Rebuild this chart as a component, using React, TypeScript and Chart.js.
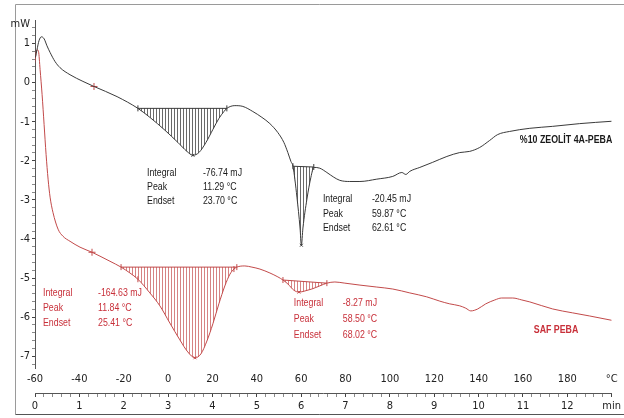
import React, { useEffect, useRef } from 'react';
import { Chart, registerables } from 'chart.js';

Chart.register(...registerables);

// ---------------- data ----------------
const temperatureTicks = [-60, -40, -20, 0, 20, 40, 60, 80, 100, 120, 140, 160, 180, 200];
const timeMajorTicks = [0, 1, 2, 3, 4, 5, 6, 7, 8, 9, 10, 11, 12, 13];
const mwMajorTicks = [-7, -6, -5, -4, -3, -2, -1, 0, 1];
const temperatureUnit = '°C';
const timeUnit = 'min';
const mwUnit = 'mW';

// %10 ZEOLİT 4A-PEBA (black)
const zeoliteTemp = [
  -59.8, -59.1, -58.2, -57.1, -55.9, -54.6, -53.2, -51.0, -48.7, -44.2, -38.4, -33.4, -23.0,
  -13.6, -8.2, -1.4, 4.4, 8.5, 11.2, 13.9, 17.1, 20.2, 22.9, 25.2, 26.5,
  30.1, 33.7, 38.2, 42.3, 45.9, 49.5, 52.2, 54.0, 55.4,
  56.3, 58.1, 59.5, 60.1, 60.8, 62.6, 64.4, 65.7,
  68.4, 71.6, 74.7, 77.4, 81.9, 86.5, 94.1, 101.3, 105.4, 107.2, 109.0, 113.5, 119.3, 125.7,
  131.5, 136.0, 140.5, 145.0, 148.6, 154.0, 163.1, 173.4, 185.6, 200.0,
];
const zeoliteMW = [
  0.64, 0.84, 1.07, 1.17, 1.12, 0.94, 0.77, 0.54, 0.38, 0.20, 0.03, -0.10, -0.36,
  -0.66, -0.89, -1.22, -1.53, -1.76, -1.86, -1.79, -1.53, -1.20, -0.92, -0.74, -0.66,
  -0.59, -0.61, -0.74, -0.89, -1.05, -1.28, -1.53, -1.79, -2.02,
  -2.14, -2.93, -3.72, -4.16, -3.72, -2.98, -2.42, -2.17,
  -2.19, -2.30, -2.42, -2.50, -2.53, -2.53, -2.47, -2.40, -2.30, -2.35, -2.27, -2.17, -2.04, -1.89,
  -1.79, -1.76, -1.66, -1.48, -1.33, -1.25, -1.17, -1.12, -1.05, -0.99,
];

// SAF PEBA (red)
const safTemp = [
  -60.6, -60.2, -59.1, -58.4, -57.7, -56.8, -55.9, -55.0, -54.1, -53.2, -51.9, -49.6, -47.4,
  -44.2, -39.7, -34.3, -30.7, -26.2,
  -21.2, -17.2, -13.6, -8.2, -3.7, 0.8, 5.3, 8.9, 12.1, 14.8, 17.5, 20.2, 22.9, 25.6, 27.9, 29.7, 31.0,
  34.6, 37.8, 41.4, 45.9, 49.5,
  51.8, 54.0, 56.7, 59.0, 61.7, 64.8, 68.4, 71.6,
  75.2, 79.7, 86.5, 94.1, 101.3, 109.0, 116.6, 122.5, 127.0, 131.5, 134.2, 136.5, 139.6, 143.2,
  147.3, 150.4, 155.4, 159.5, 163.1, 173.4, 182.4, 190.1, 200.0,
];
const safMW = [
  0.28, 0.48, 0.84, 0.79, 0.33, -0.31, -1.07, -1.84, -2.47, -2.93, -3.32, -3.75, -3.93,
  -4.06, -4.21, -4.34, -4.44, -4.57,
  -4.72, -4.87, -5.03, -5.38, -5.71, -6.15, -6.58, -6.89, -7.04, -6.94, -6.61, -6.17, -5.66, -5.20, -4.90, -4.77, -4.72,
  -4.69, -4.72, -4.77, -4.87, -4.97,
  -5.05, -5.15, -5.31, -5.36, -5.33, -5.28, -5.20, -5.13,
  -5.10, -5.13, -5.18, -5.23, -5.28, -5.38, -5.48, -5.59, -5.66, -5.71, -5.77, -5.84, -5.79, -5.66,
  -5.56, -5.51, -5.51, -5.56, -5.61, -5.79, -5.89, -5.97, -6.08,
];

// integration limits (°C) and baseline values (mW) at both limits
const zeolitePeakLimits = [[-13.6, 26.5], [56.3, 65.7]];
const zeolitePeakBase = [[-0.66, -0.66], [-2.14, -2.16]];
const safPeakLimits = [[-21.2, 31.0], [51.8, 71.6]];
const safPeakBase = [[-4.72, -4.72], [-5.05, -5.13]];

// evaluation marks
const zeoliteLimitMarks = [
  { x: -13.6, y: -0.66 }, { x: 26.5, y: -0.66 }, { x: 56.3, y: -2.14 }, { x: 65.7, y: -2.16 },
];
const safLimitMarks = [
  { x: -21.2, y: -4.72 }, { x: -13.6, y: -5.03 }, { x: 29.7, y: -4.77 }, { x: 31.0, y: -4.72 },
  { x: 51.8, y: -5.05 }, { x: 71.6, y: -5.13 },
];
const zeolitePeakMarks = [{ x: 11.2, y: -1.86 }, { x: 60.1, y: -4.16 }];
const safPeakMarks = [{ x: 12.1, y: -7.04 }, { x: 59.0, y: -5.36 }];
const crossMarks = [{ x: -33.4, y: -0.10 }, { x: -34.3, y: -4.34 }];

// texts
const seriesNames = ['%10 ZEOLİT 4A-PEBA', 'SAF PEBA'];
const resultTitles = ['Integral', 'Peak', 'Endset'];
const zeoliteResults = [
  ['-76.74 mJ', '11.29 °C', '23.70 °C'],
  ['-20.45 mJ', '59.87 °C', '62.61 °C'],
];
const safResults = [
  ['-164.63 mJ', '11.84 °C', '25.41 °C'],
  ['-8.27 mJ', '58.50 °C', '68.02 °C'],
];

// ---------------- layout / style ----------------
const BLACK = '#3a3a3a';
const RED = '#c24a4a';
const RED_TEXT = '#c8303a';
const FONT = '"Liberation Sans Narrow", "DejaVu Sans Condensed", "Liberation Sans", Arial, sans-serif';
const TEXT_FONT = '"Liberation Sans", Arial, sans-serif';
const TEXT_SCALE = 0.8;

const zeoliteBoxes = [
  { t: -9.5, v: -2.3, valueT: 15.7, step: 14 },
  { t: 69.8, v: -2.98, valueT: 91.9, step: 14.5 },
];
const safBoxes = [
  { t: -56.4, v: -5.38, valueT: -31.6, step: 15 },
  { t: 56.7, v: -5.64, valueT: 78.8, step: 16 },
];
const nameAnchors = [
  { t: 158.6, v: -1.48 },
  { t: 164.9, v: -6.33 },
];

const pts = (ts: number[], vs: number[]) => ts.map((t, i) => ({ x: t, y: vs[i] }));

function segment(ts: number[], vs: number[], lim: number[], base: number[]) {
  const out = [{ x: lim[0], y: base[0] }];
  ts.forEach((t, i) => {
    if (t > lim[0] + 0.05 && t < lim[1] - 0.05) out.push({ x: t, y: vs[i] });
  });
  out.push({ x: lim[1], y: base[1] });
  return out;
}

function hatch(color: string, gap: number) {
  const c = document.createElement('canvas');
  c.width = gap;
  c.height = 8;
  const g = c.getContext('2d')!;
  g.fillStyle = color;
  g.fillRect(0, 0, 1, 8);
  return g.createPattern(c, 'repeat')!;
}

const isInt = (v: number) => Math.abs(v - Math.round(v)) < 1e-6;

const framePlugin = {
  id: 'frame',
  beforeDraw(chart: any) {
    const { ctx, width, height } = chart;
    ctx.save();
    ctx.fillStyle = '#ffffff';
    ctx.fillRect(0, 0, width, height);
    ctx.strokeStyle = '#9a9a9a';
    ctx.lineWidth = 1;
    ctx.beginPath();
    ctx.moveTo(width, 4.5);
    ctx.lineTo(15.5, 4.5);
    ctx.lineTo(15.5, 414.5);
    ctx.stroke();
    ctx.strokeStyle = '#555555';
    ctx.beginPath();
    ctx.moveTo(15.5, 414.5);
    ctx.lineTo(width, 414.5);
    ctx.stroke();
    ctx.restore();
  },
};

const textPlugin = {
  id: 'texts',
  afterDatasetsDraw(chart: any) {
    const { ctx } = chart;
    const xs = chart.scales.x;
    const ys = chart.scales.y;
    const draw = (text: string, t: number, v: number, dy: number, color: string, bold = false) => {
      ctx.save();
      ctx.font = `${bold ? 'bold ' : ''}11px ${TEXT_FONT}`;
      ctx.fillStyle = color;
      ctx.textBaseline = 'middle';
      ctx.textAlign = 'left';
      ctx.translate(xs.getPixelForValue(t), ys.getPixelForValue(v) + dy);
      ctx.scale(TEXT_SCALE, 1);
      ctx.fillText(text, 0, 0);
      ctx.restore();
    };
    const group = (boxes: any[], results: string[][], color: string) => {
      boxes.forEach((b, k) => {
        resultTitles.forEach((title, i) => {
          draw(title, b.t, b.v, i * b.step, color);
          draw(results[k][i], b.valueT, b.v, i * b.step, color);
        });
      });
    };
    group(zeoliteBoxes, zeoliteResults, '#1a1a1a');
    group(safBoxes, safResults, RED_TEXT);
    draw(seriesNames[0], nameAnchors[0].t, nameAnchors[0].v, 0, '#1a1a1a', true);
    draw(seriesNames[1], nameAnchors[1].t, nameAnchors[1].v, 0, RED_TEXT, true);
  },
};

export default function App() {
  const ref = useRef<HTMLCanvasElement | null>(null);

  useEffect(() => {
    if (!ref.current) return;
    const blackHatch = hatch('#6a6a6a', 3);
    const redHatch = hatch('rgba(200,90,90,0.75)', 3);

    const line = (data: any[], color: string) => ({
      data,
      borderColor: color,
      borderWidth: 1,
      pointRadius: 0,
      fill: false,
      cubicInterpolationMode: 'monotone',
    });
    const base = (lim: number[], b: number[], color: string) => ({
      data: [{ x: lim[0], y: b[0] }, { x: lim[1], y: b[1] }],
      borderColor: color,
      borderWidth: 1,
      pointRadius: 0,
      fill: false,
    });
    const seg = (data: any[], target: number, pattern: CanvasPattern) => ({
      data,
      borderWidth: 0,
      borderColor: 'transparent',
      backgroundColor: pattern,
      pointRadius: 0,
      fill: target,
      cubicInterpolationMode: 'monotone',
    });
    const marks = (data: any[], color: string, style: string, radius: number, rotation = 0) => ({
      data,
      showLine: false,
      pointStyle: style,
      pointRadius: radius,
      pointRotation: rotation,
      pointBorderColor: color,
      pointBackgroundColor: color,
      pointBorderWidth: 1,
    });

    const datasets: any[] = [
      line(pts(zeoliteTemp, zeoliteMW), BLACK), // 0
      line(pts(safTemp, safMW), RED), // 1
      base(zeolitePeakLimits[0], zeolitePeakBase[0], BLACK), // 2
      seg(segment(zeoliteTemp, zeoliteMW, zeolitePeakLimits[0], zeolitePeakBase[0]), 2, blackHatch), // 3
      base(zeolitePeakLimits[1], zeolitePeakBase[1], BLACK), // 4
      seg(segment(zeoliteTemp, zeoliteMW, zeolitePeakLimits[1], zeolitePeakBase[1]), 4, blackHatch), // 5
      base(safPeakLimits[0], safPeakBase[0], RED), // 6
      seg(segment(safTemp, safMW, safPeakLimits[0], safPeakBase[0]), 6, redHatch), // 7
      base(safPeakLimits[1], safPeakBase[1], RED), // 8
      seg(segment(safTemp, safMW, safPeakLimits[1], safPeakBase[1]), 8, redHatch), // 9
      marks(zeoliteLimitMarks, BLACK, 'line', 3, 90),
      marks(safLimitMarks, RED, 'line', 3, 90),
      marks(zeolitePeakMarks, BLACK, 'crossRot', 2),
      marks(safPeakMarks, RED, 'crossRot', 2),
      marks(crossMarks, RED, 'cross', 3.5),
    ];

    const tickFont = { family: FONT, size: 11 };

    const chart = new Chart(ref.current, {
      type: 'line',
      data: { datasets },
      plugins: [framePlugin, textPlugin],
      options: {
        animation: false,
        responsive: false,
        events: [],
        layout: { padding: { left: 0, top: 20, right: 12, bottom: 4 } },
        plugins: { legend: { display: false }, tooltip: { enabled: false } },
        scales: {
          x: {
            type: 'linear',
            position: 'bottom',
            weight: 0,
            min: temperatureTicks[0],
            max: temperatureTicks[temperatureTicks.length - 1],
            afterBuildTicks: (s: any) => {
              s.ticks = temperatureTicks.map((v) => ({ value: v }));
            },
            afterFit: (s: any) => {
              s.height = 25;
            },
            grid: { display: false, drawTicks: false, tickLength: 0 },
            border: { display: false },
            ticks: {
              autoSkip: false,
              maxRotation: 0,
              padding: 5,
              color: '#222',
              font: tickFont,
              callback: (v: any) =>
                v === temperatureTicks[temperatureTicks.length - 1] ? temperatureUnit : String(v),
            },
          },
          xTime: {
            type: 'linear',
            position: 'bottom',
            weight: 1,
            min: timeMajorTicks[0],
            max: timeMajorTicks[timeMajorTicks.length - 1],
            afterBuildTicks: (s: any) => {
              const t: any[] = [];
              const last = timeMajorTicks[timeMajorTicks.length - 1];
              for (let i = 0; i <= last * 5; i++) t.push({ value: i / 5 });
              s.ticks = t;
            },
            afterFit: (s: any) => {
              s.height = 21;
            },
            grid: {
              display: true,
              drawOnChartArea: false,
              tickLength: 4,
              tickColor: (c: any) => (c.tick && isInt(c.tick.value) ? '#444' : '#8a8a8a'),
            },
            border: { display: true, color: '#555' },
            ticks: {
              autoSkip: false,
              maxRotation: 0,
              padding: 3,
              color: '#222',
              font: tickFont,
              callback: (v: any) => {
                const last = timeMajorTicks[timeMajorTicks.length - 1];
                if (Math.abs(v - last) < 1e-6) return timeUnit;
                return isInt(v) && timeMajorTicks.includes(Math.round(v)) ? String(Math.round(v)) : '';
              },
            },
          },
          y: {
            type: 'linear',
            position: 'left',
            min: -7.3,
            max: 1.6,
            afterBuildTicks: (s: any) => {
              const t: any[] = [];
              const lo = mwMajorTicks[0] * 5 - 1;
              const hi = mwMajorTicks[mwMajorTicks.length - 1] * 5 + 2;
              for (let i = lo; i <= hi; i++) t.push({ value: i / 5 });
              t.push({ value: 1.5 });
              s.ticks = t;
            },
            afterFit: (s: any) => {
              s.width = 35;
            },
            grid: {
              display: true,
              drawOnChartArea: false,
              tickLength: 3,
              tickColor: (c: any) =>
                c.tick && c.tick.value === 1.5 ? 'rgba(0,0,0,0)' : c.tick && isInt(c.tick.value) ? '#444' : '#8a8a8a',
            },
            border: { display: true, color: '#555' },
            ticks: {
              autoSkip: false,
              padding: 2,
              color: '#222',
              font: tickFont,
              callback: (v: any) => {
                if (v === 1.5) return mwUnit;
                return isInt(v) && mwMajorTicks.includes(Math.round(v)) ? String(Math.round(v)) : '';
              },
            },
          },
        },
      } as any,
    });
    return () => chart.destroy();
  }, []);

  return (
    <div style={{ position: 'fixed', left: 0, top: 0, width: 624, height: 418, background: '#fff' }}>
      <canvas ref={ref} width={624} height={418} style={{ display: 'block' }} />
    </div>
  );
}
